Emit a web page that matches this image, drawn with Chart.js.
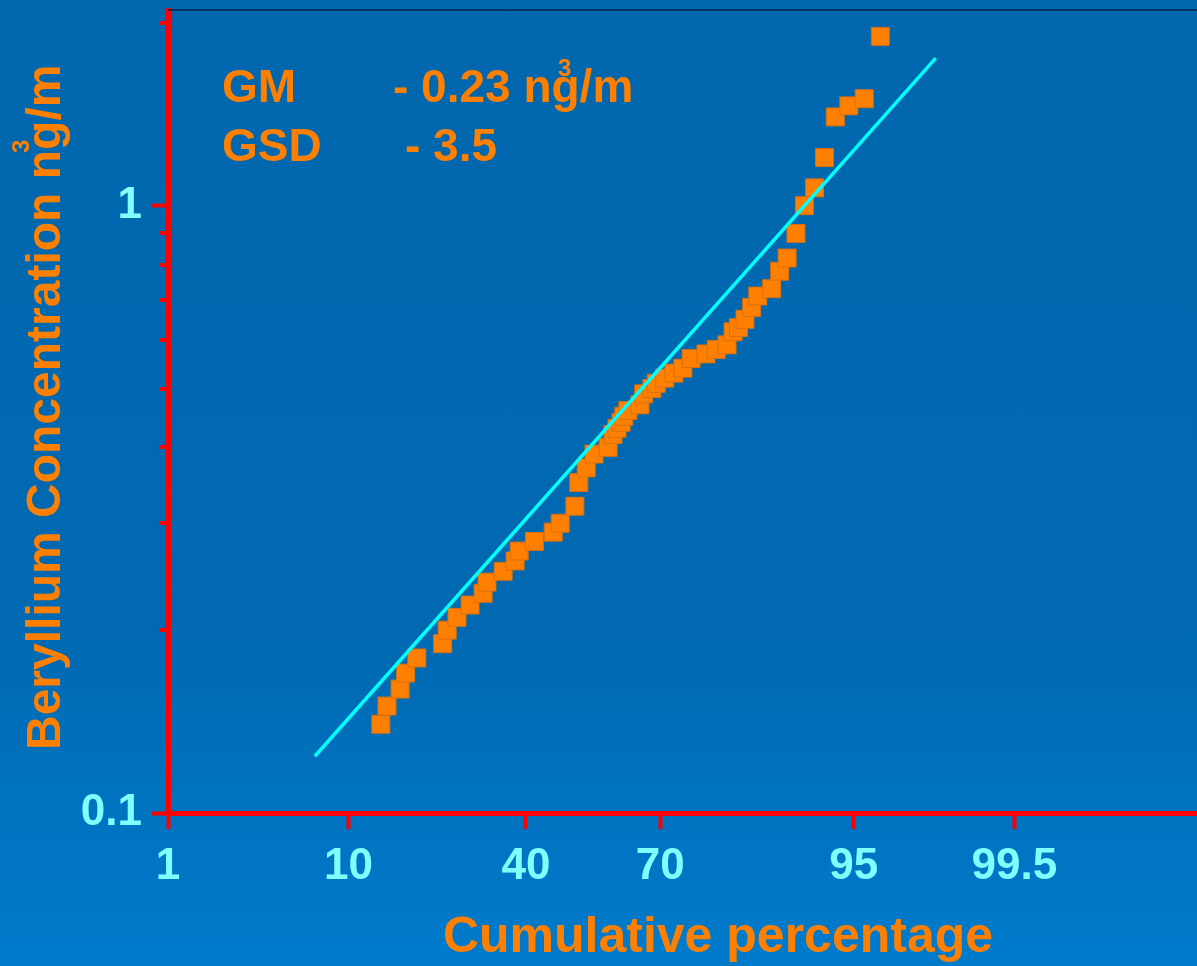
<!DOCTYPE html>
<html>
<head>
<meta charset="utf-8">
<script src="https://cdn.jsdelivr.net/npm/chart.js@4.4.0/dist/chart.umd.min.js"></script>
<style>
  html, body {
    margin: 0;
    padding: 0;
    width: 1197px;
    height: 966px;
    overflow: hidden;
    background: linear-gradient(to bottom, #0067ae 0%, #0069b1 65%, #007bcc 100%);
  }
  canvas { display: block; }
</style>
</head>
<body>
<canvas id="probChart" width="1197" height="966"></canvas>
<script>
// Sample points: cumulative percentage vs beryllium concentration (ng/m3)
const cumPercent = [13.7, 14.5, 16.3, 17.1, 18.8, 23.1, 23.9, 25.7, 28.2, 30.8,
    31.6, 35.0, 37.6, 38.5, 41.9, 46.2, 47.8, 51.2, 52.1, 53.8,
    55.6, 58.8, 59.9, 60.8, 61.7, 62.3, 63.2, 65.8, 66.6, 68.3,
    69.2, 70.9, 72.7, 74.4, 75.9, 78.5, 80.2, 81.9, 82.8, 83.6,
    84.5, 85.4, 86.2, 87.9, 88.8, 89.6, 90.5, 91.3, 92.2, 93.0,
    93.8, 94.7, 95.6, 96.4];
const concentration = [0.14, 0.15, 0.16, 0.17, 0.18, 0.19, 0.20, 0.21, 0.22, 0.23,
    0.24, 0.25, 0.26, 0.27, 0.28, 0.29, 0.30, 0.32, 0.35, 0.37,
    0.39, 0.40, 0.42, 0.43, 0.44, 0.45, 0.46, 0.47, 0.49, 0.50,
    0.51, 0.52, 0.53, 0.54, 0.56, 0.57, 0.58, 0.59, 0.62, 0.63,
    0.65, 0.68, 0.71, 0.73, 0.78, 0.82, 0.90, 1.00, 1.07, 1.20,
    1.40, 1.46, 1.50, 1.90];

// Fitted lognormal line (two end points)
const fitPercent = [7.0, 98.3];
const fitConc = [0.124, 1.75];

// Axis ticks
const xTickValues = [1, 10, 40, 70, 95, 99.5];
const yLabelTicks = [0.1, 1];
const yMinorTicks = [0.2, 0.3, 0.4, 0.5, 0.6, 0.7, 0.8, 0.9, 2];

const ORANGE = '#ff8000';
const CYAN_TEXT = '#80ffff';
const RED = '#ff0000';
const FONT = '"Liberation Sans", Arial, Helvetica, sans-serif';

// inverse of the standard normal cdf (Acklam)
function probit(p) {
    const a = [-3.969683028665376e+01, 2.209460984245205e+02, -2.759285104469687e+02,
        1.383577518672690e+02, -3.066479806614716e+01, 2.506628277459239e+00];
    const b = [-5.447609879822406e+01, 1.615858368580409e+02, -1.556989798598866e+02,
        6.680131188771972e+01, -1.328068155288572e+01];
    const c = [-7.784894002430293e-03, -3.223964580411365e-01, -2.400758277161838e+00,
        -2.549732539343734e+00, 4.374664141464968e+00, 2.938163982698783e+00];
    const d = [7.784695709041462e-03, 3.224671290700398e-01, 2.445134137142996e+00,
        3.754408661907416e+00];
    const pl = 0.02425;
    let q, r;
    if (p < pl) {
        q = Math.sqrt(-2 * Math.log(p));
        return (((((c[0] * q + c[1]) * q + c[2]) * q + c[3]) * q + c[4]) * q + c[5]) /
            ((((d[0] * q + d[1]) * q + d[2]) * q + d[3]) * q + 1);
    }
    if (p > 1 - pl) {
        q = Math.sqrt(-2 * Math.log(1 - p));
        return -(((((c[0] * q + c[1]) * q + c[2]) * q + c[3]) * q + c[4]) * q + c[5]) /
            ((((d[0] * q + d[1]) * q + d[2]) * q + d[3]) * q + 1);
    }
    q = p - 0.5;
    r = q * q;
    return (((((a[0] * r + a[1]) * r + a[2]) * r + a[3]) * r + a[4]) * r + a[5]) * q /
        (((((b[0] * r + b[1]) * r + b[2]) * r + b[3]) * r + b[4]) * r + 1);
}

function normCdf(z) {
    // Abramowitz-Stegun erf approximation
    const t = 1 / (1 + 0.3275911 * Math.abs(z) / Math.SQRT2);
    const y = 1 - (((((1.061405429 * t - 1.453152027) * t) + 1.421413741) * t - 0.284496736) * t + 0.254829592) * t *
        Math.exp(-z * z / 2);
    return z >= 0 ? (1 + y) / 2 : (1 - y) / 2;
}

// Probability (probit) axis for cumulative percentages
class ProbitScale extends Chart.LinearScale {
    buildTicks() {
        return xTickValues.map(v => ({ value: v }));
    }
    configure() {
        super.configure();
        this._zStart = probit(this.min / 100);
        this._zEnd = probit(this.max / 100);
    }
    getPixelForValue(value) {
        const z = probit(value / 100);
        return this.getPixelForDecimal((z - this._zStart) / (this._zEnd - this._zStart));
    }
    getValueForPixel(pixel) {
        const z = this._zStart + this.getDecimalForPixel(pixel) * (this._zEnd - this._zStart);
        return normCdf(z) * 100;
    }
}
ProbitScale.id = 'probit';
ProbitScale.defaults = {};
Chart.register(ProbitScale);

// no label overhang padding, so the plot fills the frame like the original slide
function noPadding(s) {
    s.paddingTop = 0;
    s.paddingBottom = 0;
    s.paddingLeft = 0;
    s.paddingRight = 0;
}

// Extra drawing: minor y ticks, top frame line, titles and annotation text
const decorPlugin = {
    id: 'decor',
    afterDraw(chart) {
        const ctx = chart.ctx;
        const area = chart.chartArea;
        const yScale = chart.scales.y;
        ctx.save();

        // minor ticks on the log axis
        ctx.strokeStyle = RED;
        ctx.lineWidth = 4;
        yMinorTicks.forEach(v => {
            const py = Math.round(yScale.getPixelForValue(v));
            ctx.beginPath();
            ctx.moveTo(area.left, py);
            ctx.lineTo(area.left - 9, py);
            ctx.stroke();
        });

        // thin dark frame line on top of the plot
        ctx.strokeStyle = '#06223f';
        ctx.lineWidth = 1.5;
        ctx.beginPath();
        ctx.moveTo(area.left, area.top);
        ctx.lineTo(area.right, area.top);
        ctx.stroke();

        ctx.fillStyle = ORANGE;
        ctx.textBaseline = 'alphabetic';
        ctx.textAlign = 'left';

        // annotation
        ctx.font = 'bold 46px ' + FONT;
        ctx.fillText('GM', 222, 102);
        ctx.fillText('- 0.23 ng/m', 393, 102);
        ctx.fillText('GSD', 222, 161);
        ctx.fillText('- 3.5', 405, 161);
        ctx.font = 'bold 24px ' + FONT;
        ctx.fillText('3', 558, 76);

        // x title
        ctx.font = 'bold 50px ' + FONT;
        ctx.textAlign = 'center';
        ctx.fillText('Cumulative percentage', 718, 952);

        // y title (rotated)
        ctx.textAlign = 'left';
        ctx.save();
        ctx.translate(60, 750);
        ctx.rotate(-Math.PI / 2);
        ctx.font = 'bold 48px ' + FONT;
        ctx.fillText('Beryllium Concentration ng/m', 0, 0);
        ctx.restore();
        ctx.save();
        ctx.translate(29, 153);
        ctx.rotate(-Math.PI / 2);
        ctx.font = 'bold 24px ' + FONT;
        ctx.fillText('3', 0, 0);
        ctx.restore();

        ctx.restore();
    }
};

const ctx = document.getElementById('probChart').getContext('2d');
new Chart(ctx, {
    type: 'scatter',
    data: {
        datasets: [
            {
                label: 'Fit',
                type: 'line',
                data: fitPercent.map((p, i) => ({ x: p, y: fitConc[i] })),
                borderColor: '#00ffff',
                borderWidth: 3.5,
                pointRadius: 0,
                fill: false,
                order: 0
            },
            {
                label: 'Samples',
                data: cumPercent.map((p, i) => ({ x: p, y: concentration[i] })),
                pointStyle: 'rect',
                pointRadius: 12.7,
                backgroundColor: ORANGE,
                borderColor: '#d8700e',
                borderWidth: 1,
                order: 1
            }
        ]
    },
    options: {
        responsive: false,
        devicePixelRatio: 1,
        animation: false,
        layout: {
            autoPadding: false,
            padding: { top: 10, left: 0, right: 0, bottom: 0 }
        },
        plugins: {
            legend: { display: false },
            tooltip: { enabled: false }
        },
        scales: {
            x: {
                type: 'probit',
                position: 'bottom',
                min: 1,
                max: 99.986,
                border: { color: RED, width: 5 },
                grid: {
                    drawOnChartArea: false,
                    tickLength: 16,
                    tickWidth: 4,
                    tickColor: RED
                },
                ticks: {
                    color: CYAN_TEXT,
                    font: { family: FONT, weight: 'bold', size: 44 },
                    padding: 11,
                    autoSkip: false,
                    maxRotation: 0,
                    callback: v => String(v)
                },
                afterFit: s => { s.height = 153; noPadding(s); }
            },
            y: {
                type: 'logarithmic',
                position: 'left',
                min: 0.1,
                max: 2.1,
                border: { color: RED, width: 5 },
                grid: {
                    drawOnChartArea: false,
                    tickLength: 16,
                    tickWidth: 4,
                    tickColor: RED
                },
                ticks: {
                    color: CYAN_TEXT,
                    font: { family: FONT, weight: 'bold', size: 44 },
                    padding: 10,
                    callback: v => String(v)
                },
                afterBuildTicks: s => { s.ticks = yLabelTicks.map(v => ({ value: v })); },
                afterFit: s => { s.width = 168; noPadding(s); }
            }
        }
    },
    plugins: [decorPlugin]
});
</script>
</body>
</html>
